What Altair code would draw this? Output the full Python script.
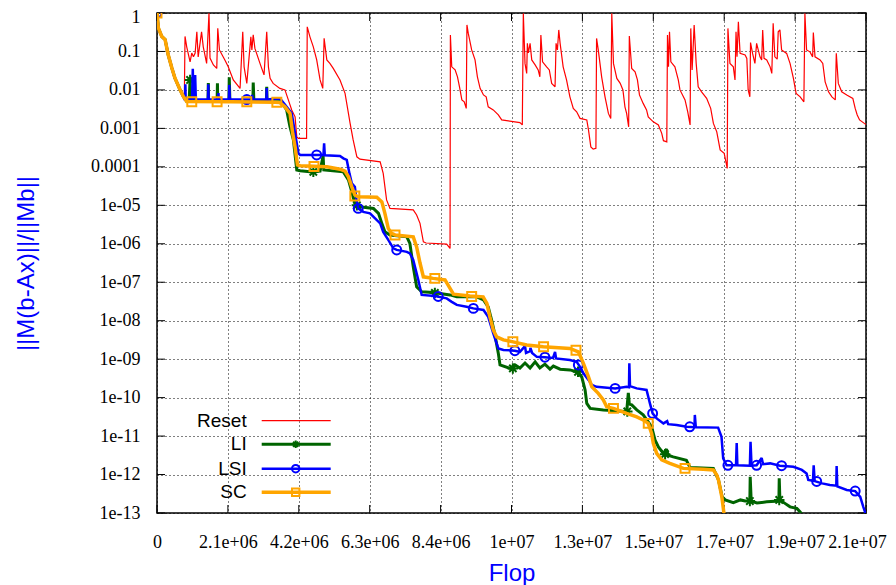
import json
import altair as alt
import pandas as pd

# x in millions of flop, y as log10 of ||M(b-Ax)||/||Mb||
RESET = [(0,0),(0.04,-0.39),(0.14,-0.61),(0.24,-0.69),(0.33,-1.08),(0.44,-1.43),(0.53,-1.69),(0.68,-1.99),(0.81,-2.18),
(0.83,-0.61),(0.88,-0.88),(0.98,-1.27),(1.03,-1.04),(1.08,-1.14),(1.13,-1.04),(1.18,-0.49),(1.22,-1.14),(1.32,-0.49),(1.37,-0.88),(1.47,-1.31),(1.54,-0.01),(1.57,-1.17),(1.67,-1.35),(1.77,-1.44),(1.80,-0.40),(1.85,-0.96),(2.01,-1.22),(2.11,-1.40),(2.26,-1.74),(2.46,-1.96),(2.54,-0.49),(2.58,-1.40),(2.66,-1.83),(2.78,-0.62),(2.81,-0.96),(2.85,-0.57),(2.90,-0.92),(3.05,-1.31),(3.17,-1.61),(3.25,-0.49),(3.30,-1.40),(3.35,-1.70),(3.44,-1.83),(3.64,-1.96),(3.79,-2.00),(3.89,-2.26),(3.99,-2.52),(4.09,-2.70),(4.14,-3.22),(4.19,-3.26),(4.43,-3.26),
(4.45,-0.36),(4.53,-0.62),(4.63,-0.88),(4.73,-1.22),(4.83,-1.74),(4.91,-1.96),(4.95,-0.66),(5.03,-1.22),(5.12,-1.31),(5.22,-1.44),(5.42,-1.74),(5.57,-2.09),(5.72,-2.87),(5.81,-3.30),(5.92,-3.74),(6.01,-3.80),(6.61,-3.87),(6.70,-4.17),(6.80,-4.86),(6.90,-5.08),(7.59,-5.12),(7.69,-5.25),(7.79,-5.47),(7.89,-5.95),(7.97,-5.98),(8.58,-6.01),(8.68,-6.12),
(8.69,-0.57),(8.73,-1.40),(8.83,-1.48),(8.90,-1.66),(8.96,-1.92),(9.03,-2.26),(9.10,-2.31),(9.16,-2.48),(9.18,-0.31),(9.22,-0.53),(9.32,-0.96),(9.42,-1.22),(9.49,-1.66),(9.57,-1.96),(9.67,-2.13),(9.75,-2.18),(9.81,-2.44),(9.96,-2.52),(10.11,-2.65),(10.21,-2.78),(10.75,-2.85),(10.82,-2.91),
(10.85,-0.01),(10.90,-1.31),(10.95,-1.57),(10.97,-0.79),(11.00,-1.04),(11.05,-0.79),(11.10,-1.22),(11.20,-1.35),(11.29,-1.48),(11.34,-1.66),(11.37,-0.57),(11.42,-1.27),(11.54,-1.40),(11.62,-1.48),(11.69,-1.83),(11.79,-1.92),(11.82,-0.79),(11.86,-0.96),(11.90,-0.44),(11.94,-0.79),(12.03,-1.40),(12.13,-1.74),(12.23,-2.18),(12.33,-2.48),(12.43,-2.57),(12.53,-2.74),(12.73,-2.78),(12.78,-3.04),(12.85,-3.48),(12.92,-3.54),(13.00,-3.52),
(13.02,-0.66),(13.07,-0.96),(13.17,-1.66),(13.27,-2.18),(13.37,-2.61),(13.44,-2.74),(13.47,-0.01),(13.52,-1.31),(13.62,-1.70),(13.72,-1.83),(13.80,-2.00),(13.86,-2.44),(13.91,-2.61),(13.97,-2.96),(13.99,-0.60),(14.06,-1.44),(14.16,-1.53),(14.23,-1.74),(14.29,-2.13),(14.40,-2.35),(14.50,-2.52),(14.55,-2.70),(14.70,-2.83),(14.85,-2.91),(14.95,-3.13),(15.00,-3.32),(15.10,-3.35),
(15.12,-0.57),(15.15,-1.40),(15.18,-0.49),(15.22,-1.27),(15.34,-1.40),(15.44,-1.74),(15.49,-2.00),(15.64,-2.26),(15.72,-2.57),(15.79,-2.91),(15.81,-0.40),(15.85,-1.48),(15.91,-0.31),(15.97,-1.31),(16.03,-1.92),(16.13,-2.05),(16.28,-2.22),(16.40,-2.48),(16.48,-2.87),(16.58,-3.09),(16.68,-3.56),(16.80,-3.65),(16.89,-4.04),
(16.91,-0.40),(16.97,-1.31),(17.07,-1.40),(17.12,-1.74),(17.15,-0.49),(17.18,-1.14),(17.22,-0.23),(17.27,-1.05),(17.42,-1.09),(17.47,-1.18),(17.51,-2.00),(17.56,-2.18),(17.58,-0.77),(17.64,-1.05),(17.71,-1.31),(17.76,-0.79),(17.86,-1.14),(17.91,-1.22),(17.94,-0.44),(17.98,-1.18),(18.06,-1.22),(18.16,-1.40),(18.21,-1.57),(18.25,-0.27),(18.30,-1.14),(18.37,-1.20),(18.40,-0.49),(18.45,-0.44),(18.50,-0.96),(18.65,-1.05),(18.75,-1.31),(18.85,-1.70),(18.93,-2.09),(19.05,-2.18),(19.16,-2.31),
(19.19,-0.01),(19.24,-0.96),(19.34,-1.01),(19.42,-1.14),(19.44,-0.51),(19.49,-1.14),(19.64,-1.22),(19.72,-1.31),(19.79,-1.79),(19.89,-2.05),(19.99,-2.18),(20.09,-2.26),(20.12,-1.05),(20.18,-1.83),(20.28,-2.05),(20.43,-2.13),(20.61,-2.22),(20.68,-2.48),(20.74,-2.65),(20.81,-2.78),(20.95,-2.87),(21.00,-2.90)]

LI = [(0,0),(0.04,-0.39),(0.14,-0.61),(0.24,-0.69),(0.33,-1.08),(0.44,-1.43),(0.53,-1.69),(0.68,-1.99),(0.78,-2.17),(0.88,-2.30),
(0.95,-2.30),(0.98,-1.74),(1.00,-2.30),(1.05,-2.00),(1.08,-2.30),
(1.51,-2.30),(1.52,-1.82),(1.53,-2.30),(1.78,-2.30),(1.79,-1.83),(1.80,-2.30),
(2.13,-2.30),(2.14,-1.67),(2.16,-2.30),(2.84,-2.30),(2.85,-1.81),(2.87,-2.30),
(3.24,-2.30),(3.25,-1.92),(3.26,-2.30),
(3.64,-2.31),(3.73,-2.37),(3.84,-2.52),(3.94,-2.96),(4.04,-3.30),(4.14,-4.08),(4.24,-4.10),(4.53,-4.13),(4.83,-4.11),(4.92,-3.72),(4.94,-4.08),(5.52,-4.13),(5.67,-4.34),(5.77,-4.65),(5.86,-4.95),(6.01,-5.04),(6.41,-5.08),(6.56,-5.21),(6.66,-5.47),(6.75,-5.69),(6.90,-5.77),(7.40,-5.82),(7.49,-5.99),(7.59,-6.60),(7.69,-7.12),(7.84,-7.25),(8.18,-7.27),(8.68,-7.33),(8.88,-7.38),(9.47,-7.38),(9.67,-7.46),(9.81,-7.64),(9.91,-7.98),(10.01,-8.37),(10.11,-8.85),(10.16,-9.15),(10.46,-9.24),(10.60,-9.15),(10.75,-9.23),(10.90,-9.10),(11.05,-9.23),(11.20,-9.07),(11.34,-9.23),(11.49,-9.13),(11.64,-9.26),(11.74,-9.18),(11.94,-9.26),(12.23,-9.28),(12.43,-9.33),(12.58,-9.46),(12.68,-9.80),(12.73,-10.15),(12.83,-10.28),(13.22,-10.32),(13.62,-10.34),(13.91,-10.37),(13.96,-9.88),(13.99,-10.17),(14.06,-10.19),(14.21,-10.32),(14.40,-10.45),(14.55,-10.63),(14.65,-10.76),(14.75,-11.10),(14.85,-11.28),(15.00,-11.45),(15.09,-11.34),(15.14,-11.50),(15.29,-11.54),(15.68,-11.63),(15.79,-11.82),(16.48,-11.84),(16.63,-12.14),(16.74,-12.58),(16.83,-12.66),(17.07,-12.73),(17.28,-12.66),(17.42,-12.69),(17.56,-12.69),(17.57,-12.06),(17.60,-12.69),(17.77,-12.74),(18.06,-12.71),(18.42,-12.69),(18.43,-12.10),(18.45,-12.66),(18.60,-12.75),(18.75,-12.84),(18.95,-12.88),(19.05,-12.97),(19.13,-13.08)]

LSI = [(0,0),(0.04,-0.39),(0.14,-0.61),(0.24,-0.69),(0.33,-1.08),(0.44,-1.43),(0.53,-1.69),(0.68,-1.99),(0.78,-2.17),(0.82,-2.25),
(0.83,-2.25),(0.84,-1.85),(0.85,-2.25),(1.04,-2.25),(1.06,-1.45),(1.08,-2.25),(1.13,-1.61),(1.15,-2.25),
(1.51,-2.25),(1.52,-1.85),(1.53,-2.25),(1.81,-2.25),(1.82,-2.08),(1.83,-2.25),
(2.13,-2.25),(2.14,-1.87),(2.16,-2.25),(2.81,-2.25),(2.82,-2.13),(2.84,-2.25),
(3.24,-2.25),(3.25,-1.95),(3.26,-2.25),
(3.64,-2.22),(3.84,-2.44),(3.99,-2.61),(4.09,-3.13),(4.19,-3.65),(4.24,-3.69),(4.73,-3.69),(4.93,-3.69),(4.95,-3.39),(4.97,-3.70),(5.42,-3.72),(5.52,-3.78),(5.62,-3.82),(5.70,-4.17),(5.77,-4.43),(5.86,-4.52),(5.91,-4.86),(5.96,-5.08),(6.11,-5.17),(6.31,-5.21),(6.46,-5.34),(6.61,-5.47),(6.70,-5.69),(6.85,-5.90),(7.00,-6.12),(7.10,-6.16),(7.40,-6.21),(7.49,-6.25),(7.59,-6.42),(7.74,-6.94),(7.84,-7.33),(8.23,-7.36),(8.58,-7.42),(8.73,-7.51),(8.88,-7.59),(9.17,-7.64),(9.37,-7.68),(9.67,-7.72),(9.81,-7.90),(9.96,-8.33),(10.11,-8.72),(10.26,-8.76),(10.60,-8.78),(10.75,-8.81),(10.90,-8.66),(10.93,-8.84),(11.05,-8.79),(11.06,-8.71),(11.11,-8.84),(11.25,-8.94),(11.49,-8.95),(11.73,-8.97),(11.79,-8.81),(11.82,-8.98),(12.23,-9.02),(12.43,-9.07),(12.53,-9.20),(12.63,-9.37),(12.78,-9.54),(12.88,-9.67),(13.02,-9.72),(13.57,-9.76),(13.91,-9.72),(13.98,-9.73),(13.99,-9.11),(14.01,-9.70),(14.21,-9.76),(14.50,-9.80),(14.60,-10.15),(14.68,-10.41),(14.80,-10.54),(15.00,-10.67),(15.11,-10.61),(15.14,-10.69),(15.39,-10.71),(15.69,-10.76),(15.92,-10.77),(15.93,-10.45),(15.96,-10.77),(16.62,-10.78),(16.72,-11.02),(16.77,-11.58),(16.87,-11.76),(17.15,-11.76),(17.17,-11.18),(17.19,-11.76),(17.56,-11.77),(17.58,-11.15),(17.61,-11.77),(17.76,-11.76),(17.91,-11.57),(17.95,-11.73),(18.16,-11.71),(18.45,-11.77),(18.85,-11.80),(19.10,-11.88),(19.24,-11.97),(19.29,-12.14),(19.43,-12.16),(19.45,-11.76),(19.48,-12.17),(19.70,-12.23),(19.93,-12.27),(20.12,-12.29),(20.13,-11.78),(20.15,-12.31),(20.43,-12.40),(20.68,-12.43),(20.83,-12.58),(20.92,-12.84),(20.97,-12.97),(21.00,-13.08)]

SC = [(0,0),(0.04,-0.39),(0.14,-0.61),(0.24,-0.69),(0.33,-1.08),(0.44,-1.43),(0.53,-1.69),(0.68,-1.99),(0.78,-2.17),(0.88,-2.30),(2.16,-2.31),(3.50,-2.32),(3.64,-2.33),(3.79,-2.44),(3.94,-2.61),(4.02,-3.13),(4.09,-3.48),(4.16,-3.95),(4.24,-3.97),(5.03,-4.00),(5.42,-4.06),(5.57,-4.11),(5.67,-4.26),(5.77,-4.52),(5.86,-4.73),(5.95,-4.78),(6.51,-4.79),(6.66,-4.91),(6.75,-5.21),(6.85,-5.60),(6.95,-5.73),(7.05,-5.77),(7.59,-5.82),(7.69,-6.08),(7.79,-6.50),(7.89,-6.86),(8.18,-6.90),(8.53,-6.94),(8.68,-7.16),(8.78,-7.31),(9.27,-7.36),(9.66,-7.38),(9.77,-7.55),(9.86,-7.90),(9.96,-8.24),(10.06,-8.42),(10.26,-8.50),(10.55,-8.55),(10.95,-8.63),(11.44,-8.68),(12.23,-8.72),(12.48,-8.81),(12.63,-9.11),(12.78,-9.46),(12.88,-9.72),(13.07,-9.89),(13.22,-10.06),(13.32,-10.24),(13.52,-10.28),(13.91,-10.41),(14.21,-10.50),(14.40,-10.58),(14.55,-10.67),(14.65,-10.93),(14.70,-11.19),(14.80,-11.45),(14.95,-11.62),(15.19,-11.71),(15.59,-11.84),(16.18,-11.86),(16.48,-11.88),(16.58,-12.01),(16.63,-12.14),(16.73,-12.58),(16.78,-12.92),(16.81,-13.13)]

# point markers drawn on the curves
LI_MARKS = [(0.98,-1.74),(4.63,-4.13),(5.92,-5.00),(8.23,-7.28),(10.54,-9.24),(12.47,-9.33),(13.93,-10.36),(15.05,-11.47),(17.56,-12.69),(18.43,-12.66)]
LSI_MARKS = [(0,0),(2.66,-2.25),(4.73,-3.69),(5.96,-5.08),(7.10,-6.16),(8.33,-7.37),(9.37,-7.68),(10.60,-8.78),(11.49,-8.95),(12.48,-9.15),(13.57,-9.76),(14.68,-10.41),(15.78,-10.76),(16.91,-11.76),(17.76,-11.76),(18.50,-11.77),(19.54,-12.18),(20.68,-12.43)]
SC_MARKS = [(0,0),(1.03,-2.31),(1.78,-2.31),(2.66,-2.31),(3.55,-2.32),(4.65,-3.99),(5.86,-4.76),(7.05,-5.77),(8.23,-6.90),(9.32,-7.37),(10.54,-8.55),(11.45,-8.68),(12.41,-8.77),(13.52,-10.28),(14.55,-10.67),(15.64,-11.84)]

SERIES = ["Reset", "LI", "LSI", "SC"]
COLORS = {"Reset": "#ff0000", "LI": "#006400", "LSI": "#0000ff", "SC": "#ffa500"}
WIDTHS = {"Reset": 1.2, "LI": 3, "LSI": 2.5, "SC": 3.5}

X_TICKS = [0, 2.1e6, 4.2e6, 6.3e6, 8.4e6, 1.05e7, 1.26e7, 1.47e7, 1.68e7, 1.89e7, 2.1e7]
X_LABELS = ["0", "2.1e+06", "4.2e+06", "6.3e+06", "8.4e+06", "1e+07", "1.3e+07", "1.5e+07", "1.7e+07", "1.9e+07", "2.1e+07"]
Y_TICKS = [10.0 ** -k for k in range(14)]
Y_LABELS = ["1", "0.1", "0.01", "0.001", "0.0001", "1e-05", "1e-06", "1e-07", "1e-08", "1e-09", "1e-10", "1e-11", "1e-12", "1e-13"]

ASTERISK = "M-1,0L1,0M0,-1L0,1M-0.7,-0.7L0.7,0.7M-0.7,0.7L0.7,-0.7"
SHAPES = {"LI": ASTERISK, "LSI": "circle", "SC": "square"}
MARK_SIZE = {"LI": 110, "LSI": 80, "SC": 80}


def frame(points):
    return pd.DataFrame({
        "i": range(len(points)),
        "x": [p[0] * 1e6 for p in points],
        "y": [10.0 ** p[1] for p in points],
    })


W, H = 709, 500
xscale = alt.Scale(domain=[0, 2.1e7], nice=False, zero=False)
yscale = alt.Scale(type="log", domain=[1e-13, 1], nice=False)
xaxis = alt.Axis(
    values=X_TICKS,
    labelExpr=json.dumps(X_LABELS) + "[round(datum.value / 2100000)]",
    labelOffset={"condition": {"test": "datum.value > 2e7", "value": -9}, "value": 0},
    title="Flop", titleX=W / 2, titleY=67, titleBaseline="alphabetic", titleAlign="center",
    labelPadding=20, labelFlush=False, labelOverlap=False,
)
yaxis = alt.Axis(
    values=Y_TICKS,
    labelExpr=json.dumps(Y_LABELS) + "[round(-log(datum.value) / LN10)]",
    labelOffset={"condition": {"test": "datum.value > 0.5", "value": 4}, "value": 0},
    title="||M(b-Ax)||/||Mb||", titleX=-131, titleY=H / 2, titleAngle=270,
    titleAlign="center", titleBaseline="middle",
    labelPadding=17, labelFlush=False, labelOverlap=False,
)
X = alt.X("x:Q", scale=xscale, axis=xaxis)
Y = alt.Y("y:Q", scale=yscale, axis=yaxis)

layers = []

# inward tick marks on the frame
yt = pd.DataFrame({"y": Y_TICKS})
xt = pd.DataFrame({"x": X_TICKS})
for a, b in [(0, 8), (W - 8, W)]:
    layers.append(alt.Chart(yt).mark_rule(color="black", strokeWidth=1).encode(
        x=alt.value(a), x2=alt.value(b), y=Y))
for a, b in [(0, 8), (H - 8, H)]:
    layers.append(alt.Chart(xt).mark_rule(color="black", strokeWidth=1).encode(
        x=X, y=alt.value(a), y2=alt.value(b)))

data = {"Reset": RESET, "LI": LI, "LSI": LSI, "SC": SC}
marks = {"LI": LI_MARKS, "LSI": LSI_MARKS, "SC": SC_MARKS}
for s in SERIES:
    layers.append(alt.Chart(frame(data[s])).mark_line(
        color=COLORS[s], strokeWidth=WIDTHS[s], clip=True, strokeJoin="miter", strokeMiterLimit=2
    ).encode(x=X, y=Y, order="i:Q"))
    if s in marks:
        layers.append(alt.Chart(frame(marks[s])).mark_point(
            shape=SHAPES[s], color=COLORS[s], filled=False, size=MARK_SIZE[s], strokeWidth=2, opacity=1, clip=True
        ).encode(x=X, y=Y))

# legend (inside plot, bottom-left, gnuplot style)
one = pd.DataFrame({"a": [0]})
LEG_Y = [407.7, 431.3, 455.7, 479.3]
for s, ly in zip(SERIES, LEG_Y):
    layers.append(alt.Chart(one).mark_text(
        text=s, align="right", baseline="middle", font="Liberation Sans", fontSize=19, color="black"
    ).encode(x=alt.value(89.7), y=alt.value(ly)))
    layers.append(alt.Chart(one).mark_rule(color=COLORS[s], strokeWidth=WIDTHS[s]).encode(
        x=alt.value(104.7), x2=alt.value(173.7), y=alt.value(ly)))
    if s in SHAPES:
        layers.append(alt.Chart(one).mark_point(
            shape=SHAPES[s], color=COLORS[s], filled=False, size=55, strokeWidth=2, opacity=1
        ).encode(x=alt.value(138.7), y=alt.value(ly)))

chart = alt.layer(*layers).properties(
    width=W, height=H,
    autosize=alt.AutoSizeParams(type="none"),
    padding={"left": 149, "top": 5, "right": 22, "bottom": 77},
    background="white",
).configure_view(
    stroke="black", strokeWidth=1.5
).configure_axis(
    grid=True, gridColor="black", gridDash=[1, 3], gridOpacity=1, gridWidth=1,
    domain=False, ticks=False,
    labelFont="Liberation Serif", labelFontSize=18, labelColor="black",
    titleFont="Liberation Sans", titleFontSize=24, titleColor="#0000ff", titleFontWeight="normal",
)

chart.save("out.html", embed_options={"renderer": "svg", "actions": False})
